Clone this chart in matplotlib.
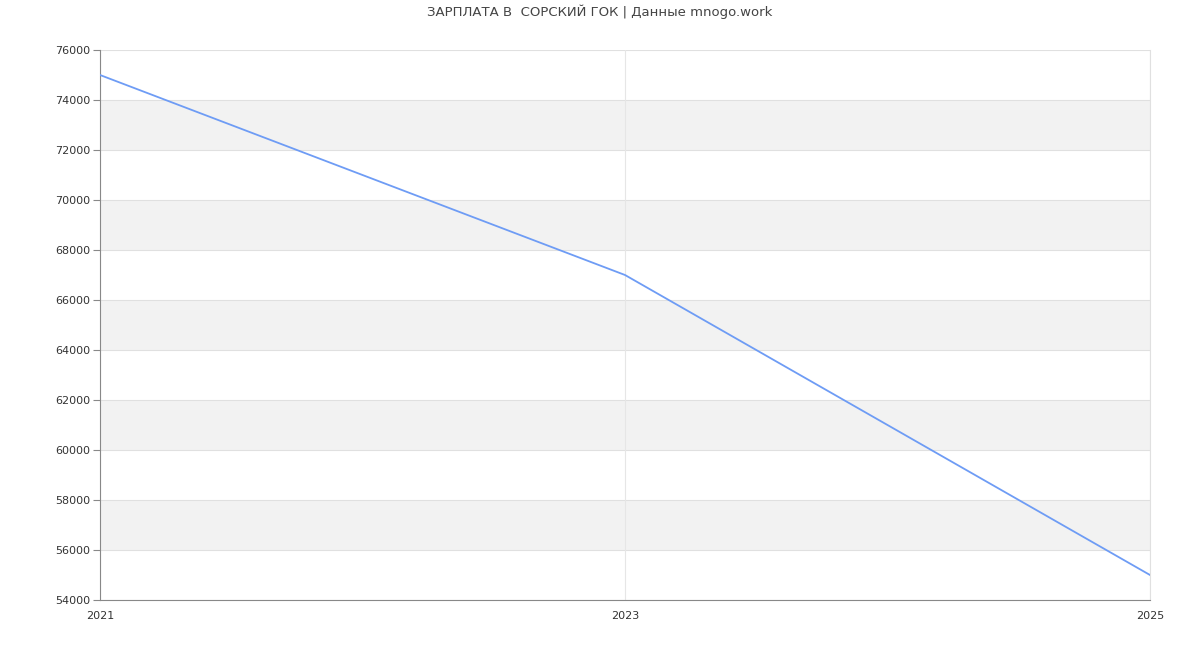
import matplotlib.pyplot as plt

years = [2021, 2023, 2025]
salary = [75000, 67000, 55000]
y_ticks = list(range(54000, 76001, 2000))
title = "ЗАРПЛАТА В  СОРСКИЙ ГОК | Данные mnogo.work"

fig = plt.figure(figsize=(12, 6.5), dpi=100)
ax = fig.add_axes([100 / 1200, 50 / 650, 1050 / 1200, 550 / 650])

# alternating bands
for i, lo in enumerate(y_ticks[:-1]):
    if i % 2 == 1:
        ax.axhspan(lo, lo + 2000, color="#f2f2f2", zorder=0, lw=0)
for t in y_ticks:
    ax.axhline(t, color="#e0e0e0", lw=0.8, zorder=1)
for x in years:
    ax.axvline(x, color="#e6e6e6", lw=0.8, zorder=1)

ax.plot(years, salary, color="#6e9cf5", lw=1.3, zorder=3)

ax.set_xlim(2021, 2025)
ax.set_ylim(54000, 76000)
ax.set_xticks(years)
ax.set_yticks(y_ticks)
ax.tick_params(axis="y", labelsize=8, colors="#333333", length=5, color="#888888", pad=2)
ax.tick_params(axis="x", labelsize=8, colors="#333333", length=0, pad=8)

ax.spines["top"].set_visible(False)
ax.spines["right"].set_color("#e0e0e0")
ax.spines["left"].set_color("#888888")
ax.spines["bottom"].set_color("#888888")

fig.suptitle(title, y=0.993, fontsize=9.5, color="#444444")
fig.savefig("out.png", dpi=100)
